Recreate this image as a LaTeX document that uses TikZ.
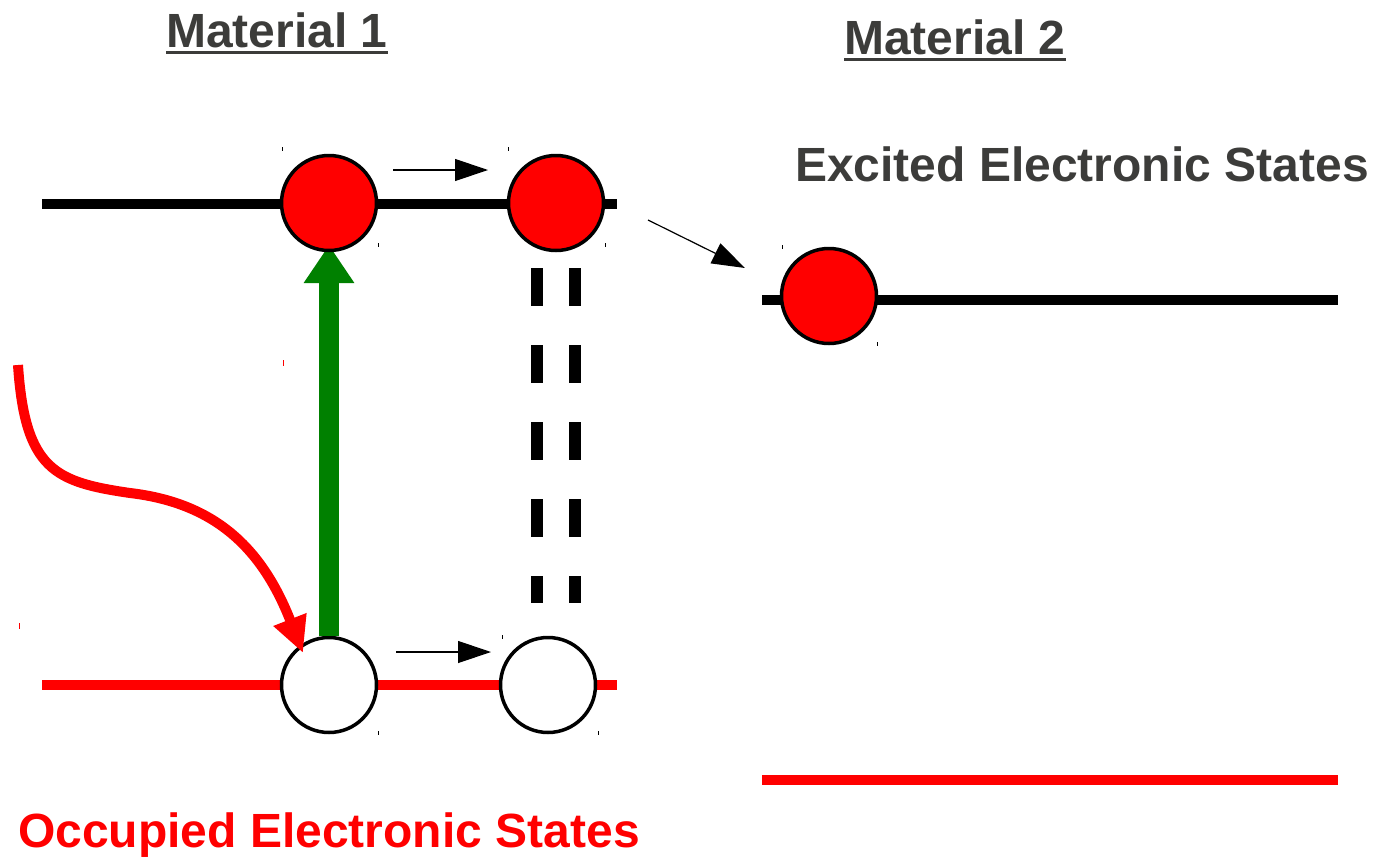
\documentclass[tikz,border=0pt]{standalone}
\usepackage{fontspec}
\setmainfont{Liberation Sans}
\usetikzlibrary{arrows.meta}
\definecolor{inkgray}{HTML}{3C3C3A}
\definecolor{pure red}{HTML}{FF0000}
\definecolor{leafgreen}{HTML}{008000}
\begin{document}
\begin{tikzpicture}[x=1pt,y=-1pt,
  level/.style={line width=10.5pt},
  electron/.style={circle,draw=black,fill=pure red,line width=3.5pt,minimum size=95pt,inner sep=0pt},
  hole/.style={circle,draw=black,fill=white,line width=3.5pt,minimum size=95pt,inner sep=0pt},
  heading/.style={font=\fontsize{48}{50}\selectfont\bfseries,text=inkgray,inner sep=0pt,anchor=base},
  thinarrow/.style={line width=1.2pt,-{Triangle[length=33pt,width=22pt]}},
  stub/.style={line width=1pt},
]
\useasboundingbox (0,0) rectangle (1377,857);

% energy levels
\draw[level,black] (42,204) -- (617,204);
\draw[level,pure red] (42,685) -- (617,685);
\draw[level,black] (762,300) -- (1338,300);
\draw[level,pure red] (762,780) -- (1338,780);

% coupling between the shifted states
\draw[line width=11.5pt,dash pattern=on 38pt off 39pt] (537,268) -- (537,603);
\draw[line width=11.5pt,dash pattern=on 38pt off 39pt] (575,268) -- (575,603);

% states
\node[hole] (o1) at (329,685) {};
\node[hole] (o2) at (548,685) {};

% excitation, its tip tucked under the upper circle
\coordinate (up) at (329,245);
\draw[leafgreen,line width=20pt,-{Triangle[length=38pt,width=48pt]}] (o1.north) -- (up);

\node[electron] (e1) at (329,203) {};
\node[electron] (e2) at (556,203) {};
\node[electron] (e3) at (829,296) {};

% incoming light
\coordinate (light) at (18,365);
\coordinate (hit) at (303,653);
\draw[pure red,line width=10pt,-{Triangle[length=36pt,width=33pt]}]
  (light) .. controls (25,470) and (55,482) .. (130,493)
          .. controls (215,503) and (262,548) .. (hit);

% transfer arrows
\coordinate (t1) at (393,170);
\coordinate (t2) at (488,170);
\coordinate (b1) at (396,652);
\coordinate (b2) at (491,652);
\coordinate (d1) at (648,220);
\coordinate (d2) at (745,268);
\draw[thinarrow] (t1) -- (t2);
\draw[thinarrow] (b1) -- (b2);
\draw[thinarrow] (d1) -- (d2);

% small stubs
\foreach \x/\y in {282/149,378/245,508/149,605/245,782/247,877/344,378/733,502/637,598/733}
  \draw[stub] (\x,\y-2) -- (\x,\y+2);
\foreach \x/\y in {283/363,19/626}
  \draw[stub,pure red] (\x,\y-3) -- (\x,\y+3);

% labels
\node[heading] (m1) at (277,47) {Material 1};
\draw[inkgray,line width=3pt] (m1.base west |- 0,52) -- (m1.base east |- 0,52);
\node[heading] (m2) at (955,54) {Material 2};
\draw[inkgray,line width=3pt] (m2.base west |- 0,59) -- (m2.base east |- 0,59);
\node[heading] (exc) at (1082,181) {Excited Electronic States};
\node[heading,text=pure red] (occ) at (329,847) {Occupied Electronic States};
\end{tikzpicture}
\end{document}
